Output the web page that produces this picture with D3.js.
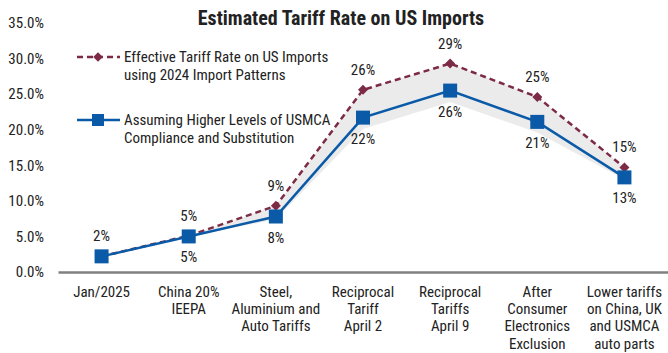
<!DOCTYPE html>
<html><head><meta charset="utf-8">
<script src="https://cdn.jsdelivr.net/npm/d3@7"></script>
<style>
body{margin:0;background:#fff;}
text{font-family:"Roboto Condensed","Liberation Sans Narrow","Arial Narrow",Roboto,sans-serif;fill:#222;}
</style></head>
<body><svg id="c" width="668" height="353"></svg>
<script>
const categories = [
  ["Jan/2025"],
  ["China 20%","IEEPA"],
  ["Steel,","Aluminium and","Auto Tariffs"],
  ["Reciprocal","Tariff","April 2"],
  ["Reciprocal","Tariffs","April 9"],
  ["After","Consumer","Electronics","Exclusion"],
  ["Lower tariffs","on China, UK","and USMCA","auto parts"]
];
const effective = [2.2, 5.1, 9.3, 25.6, 29.3, 24.6, 14.7];
const effectiveLabels = ["2%","5%","9%","26%","29%","25%","15%"];
const usmca = [2.2, 5.0, 7.8, 21.7, 25.5, 21.1, 13.3];
const usmcaLabels = ["","5%","8%","22%","26%","21%","13%"];
const bandLow = [2.2, 5.0, 7.4, 20.1, 23.9, 19.6, 13.0];
const yTicks = [0,5,10,15,20,25,30,35];
const seriesNames = [["Effective Tariff Rate on US Imports","using 2024 Import Patterns"],["Assuming Higher Levels of USMCA","Compliance and Substitution"]];
const title = "Estimated Tariff Rate on US Imports";

const red = "#7d2b45", blue = "#0a5aa8";
const fs = 15;
const svg = d3.select("#c");
const x = d3.scaleBand().domain(d3.range(categories.length)).range([58,668]);
const y = d3.scaleLinear().domain([0,35]).range([272,23]);
const cx = i => x(i) + x.bandwidth()/2;

svg.append("text").attr("x",341).attr("y",25).attr("text-anchor","middle")
  .attr("font-weight","bold").attr("font-size",20).text(title);

// y axis labels
const ya = svg.append("g").attr("transform","translate(44,0)")
  .call(d3.axisLeft(y).tickValues(yTicks).tickFormat(d=>d.toFixed(1)+"%").tickSize(0).tickPadding(0));
ya.select(".domain").remove();
ya.selectAll("text").attr("font-size",fs).attr("fill","#222");

// band
const area = d3.area().x((d,i)=>cx(i)).y0((d,i)=>y(bandLow[i])).y1(d=>y(d));
svg.append("path").datum(effective).attr("d",area).attr("fill","#ebebeb");

// zero axis
const xa = svg.append("g").attr("transform",`translate(0,${y(0)})`)
  .call(d3.axisBottom(x).tickSize(0).tickFormat(""));
xa.select(".domain").attr("stroke","#808080").attr("stroke-width",2.5);

// x labels
categories.forEach((lines,i)=>{
  const t = svg.append("text").attr("text-anchor","middle").attr("font-size",fs);
  lines.forEach((l,j)=>t.append("tspan").attr("x",cx(i)).attr("y",297+j*17.2).text(l));
});

const line = d3.line().x((d,i)=>cx(i)).y(d=>y(d));
svg.append("path").datum(effective).attr("d",line).attr("fill","none")
  .attr("stroke",red).attr("stroke-width",2.5).attr("stroke-dasharray","6,4");
svg.append("path").datum(usmca).attr("d",line).attr("fill","none")
  .attr("stroke",blue).attr("stroke-width",2.5);

svg.selectAll(".dm").data(effective).join("path")
  .attr("transform",(d,i)=>`translate(${cx(i)},${y(d)}) rotate(45)`)
  .attr("d",d3.symbol().type(d3.symbolSquare).size(50)).attr("fill",red);
svg.selectAll(".sq").data(usmca).join("rect")
  .attr("x",(d,i)=>cx(i)-7).attr("y",d=>y(d)-7).attr("width",14).attr("height",14).attr("fill",blue);

svg.selectAll(".le").data(effective).join("text")
  .attr("x",(d,i)=>cx(i)).attr("y",d=>y(d)-15).attr("text-anchor","middle").attr("font-size",fs)
  .text((d,i)=>effectiveLabels[i]);
svg.selectAll(".lu").data(usmca).join("text")
  .attr("x",(d,i)=>cx(i)).attr("y",d=>y(d)+26).attr("text-anchor","middle").attr("font-size",fs)
  .text((d,i)=>usmcaLabels[i]);

// legend
const lg = svg.append("g");
lg.append("line").attr("x1",77).attr("x2",120).attr("y1",57).attr("y2",57)
  .attr("stroke",red).attr("stroke-width",2.5).attr("stroke-dasharray","6,4");
lg.append("path").attr("transform","translate(98,57) rotate(45)")
  .attr("d",d3.symbol().type(d3.symbolSquare).size(45)).attr("fill",red);
lg.append("line").attr("x1",77).attr("x2",120).attr("y1",120).attr("y2",120)
  .attr("stroke",blue).attr("stroke-width",2.5);
lg.append("rect").attr("x",92).attr("y",114).attr("width",12).attr("height",12).attr("fill",blue);
seriesNames.forEach((lines,k)=>{
  const t = lg.append("text").attr("font-size",fs);
  lines.forEach((l,j)=>t.append("tspan").attr("x",124).attr("y",(k?125:62)+j*17.5).text(l));
});
</script></body></html>
